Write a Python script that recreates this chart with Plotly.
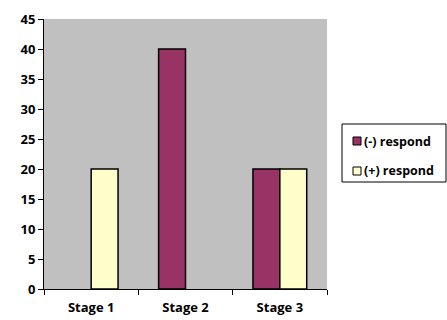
import plotly.graph_objects as go

stages = ["Stage 1", "Stage 2", "Stage 3"]
neg_respond = [0, 40, 20]
pos_respond = [20, 0, 20]

series = [
    ("(-) respond", neg_respond, "#993366"),
    ("(+) respond", pos_respond, "#FFFFCC"),
]

font_family = "'Open Sans', 'Liberation Sans', sans-serif"

# plot area geometry in pixels (used to place the boxed legend)
W, H = 447, 320
L, R, T, B = 44, 120, 19, 31
pw, ph = W - L - R, H - T - B


def px_x(x):
    return (x - L) / pw


def px_y(y):
    return (H - B - y) / ph


fig = go.Figure()
for name, vals, color in series:
    fig.add_trace(go.Bar(
        x=stages, y=vals, name=name, showlegend=False,
        marker=dict(color=color,
                    line=dict(color="black", width=[1.5 if v else 0 for v in vals])),
    ))

# boxed legend on the right
shapes = [dict(type="rect", xref="paper", yref="paper",
               x0=px_x(342), x1=px_x(446), y0=px_y(182), y1=px_y(124),
               line=dict(color="black", width=1), fillcolor="white", layer="above")]
annotations = []
for i, (name, vals, color) in enumerate(series):
    cy = 141 + i * 30
    shapes.append(dict(type="rect", xref="paper", yref="paper",
                       x0=px_x(353), x1=px_x(361), y0=px_y(cy + 4), y1=px_y(cy - 4),
                       line=dict(color="black", width=1), fillcolor=color, layer="above"))
    annotations.append(dict(xref="paper", yref="paper", x=px_x(362), y=px_y(cy),
                            xanchor="left", yanchor="middle", showarrow=False,
                            text="<b>" + name + "</b>", font=dict(size=12.5)))

fig.update_layout(
    width=W, height=H,
    margin=dict(l=L, r=R, t=T, b=B, autoexpand=False),
    barmode="group", bargap=0.43, bargroupgap=0,
    plot_bgcolor="#C0C0C0", paper_bgcolor="white",
    font=dict(family=font_family, size=13, color="black"),
    showlegend=False,
    shapes=shapes, annotations=annotations,
    xaxis=dict(
        showline=True, linecolor="black", linewidth=1,
        ticks="outside", tickson="boundaries", ticklen=5, tickcolor="black",
        tickfont=dict(size=13, weight="bold"), ticklabelstandoff=6,
        showgrid=False, automargin=False,
    ),
    yaxis=dict(
        range=[0, 45], dtick=5,
        showline=True, linecolor="black", linewidth=1,
        ticks="outside", ticklen=5, tickcolor="black",
        tickfont=dict(size=13, weight="bold"),
        showgrid=False, zeroline=False, automargin=False,
    ),
)

fig.write_html("out.html")
